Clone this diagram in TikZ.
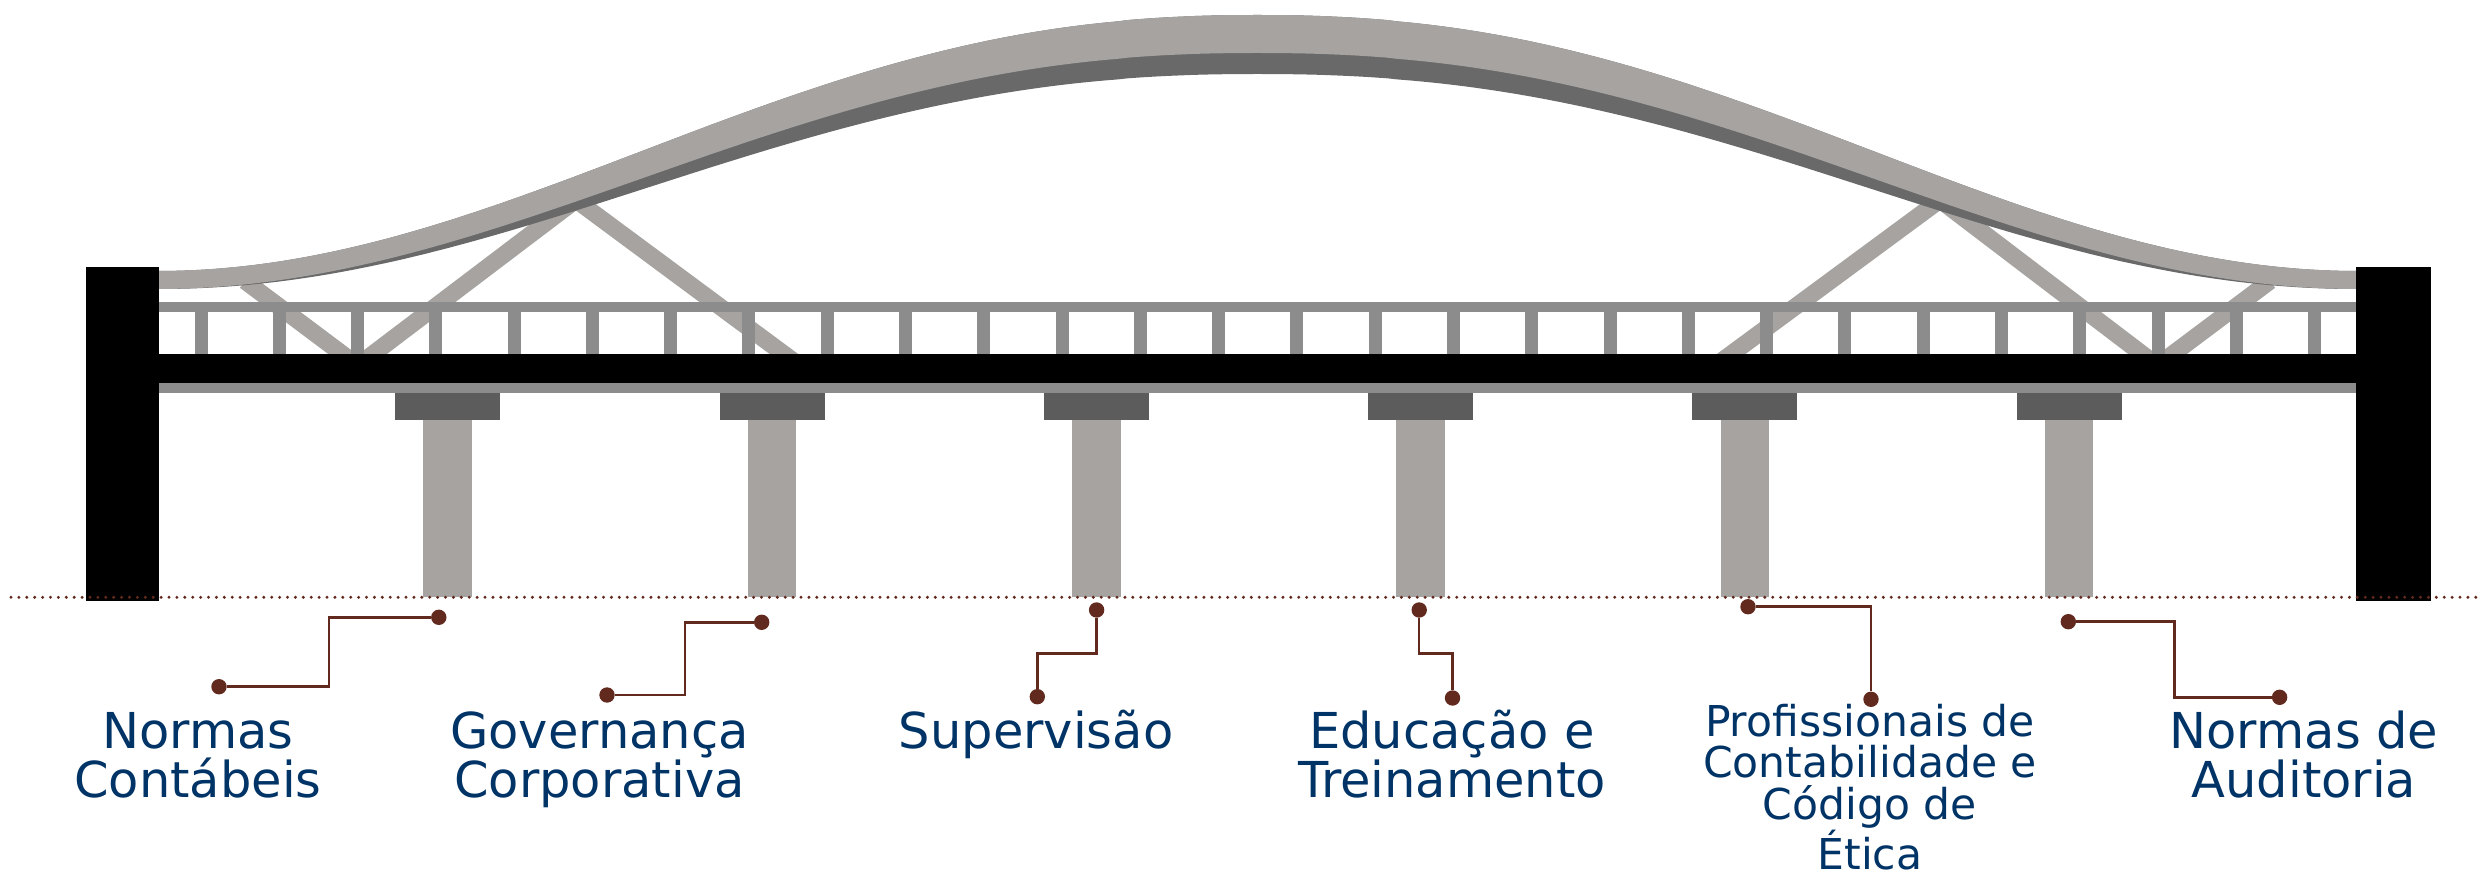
\documentclass[tikz,border=0pt]{standalone}
\usepackage{fontspec}
\setmainfont{DejaVu Sans}
\definecolor{archlight}{RGB}{166,163,161}
\definecolor{archdark}{RGB}{105,105,105}
\definecolor{railgray}{RGB}{140,140,140}
\definecolor{capgray}{RGB}{92,92,92}
\definecolor{brownline}{RGB}{98,42,30}
\definecolor{labelblue}{RGB}{0,51,102}
\begin{document}
\begin{tikzpicture}[x=0.5pt,y=-0.5pt,
  declare function={
    archf(\q)=(1-cos(180*pow(min(abs(\q-1257.5)/1100,1)+0.0001,1.127)))/2;
    archU(\q)=15+256*archf(\q);
    archL(\q)=archU(\q)+38-20*archf(\q);
    archD(\q)=archL(\q)+21*pow(max(1-archf(\q),0.0001),0.85);
  },
  lbl/.style={text=labelblue, align=center, anchor=base, inner sep=0pt, font=\fontsize{24.75pt}{24.4pt}\selectfont},
  lblsmall/.style={lbl, font=\fontsize{21.25pt}{20.75pt}\selectfont},
  pin/.style={circle, fill=brownline, inner sep=0pt, minimum size=7.7pt},
  conn/.style={draw=brownline, line width=1.25pt},
  truss/.style={draw=archlight, line width=8.5pt, line join=miter},
  ground/.style={draw=brownline, line width=1.65pt, line cap=round, dash pattern=on 0pt off 3.95pt},
]
\useasboundingbox (0,0) rectangle (2481,877);
% truss diagonals
\draw[truss] (245,281) -- (353,362);
\draw[truss] (362.3,362) -- (576,200) -- (794.7,362);
\draw[truss] (2270,281) -- (2162,362);
\draw[truss] (2152.7,362) -- (1940,200) -- (1720.3,362);
% arch: dark underside
\fill[archdark] plot[domain=142.5:2372.5, samples=241, smooth] (\x,{archU(\x)})
  -- plot[domain=2372.5:142.5, samples=241, smooth] (\x,{archD(\x)}) -- cycle;
% arch: light band
\fill[archlight] plot[domain=142.5:2372.5, samples=241, smooth] (\x,{archU(\x)})
  -- plot[domain=2372.5:142.5, samples=241, smooth] (\x,{archL(\x)}) -- cycle;
% railing
\fill[railgray] (159,302.3) rectangle (2356,312.3);
\foreach \i in {0,...,27} \fill[railgray] ({201+78.28*\i-6.5},312) rectangle ++(13,42.5);
% deck
\fill[black] (159,354.3) rectangle (2356,382.7);
\fill[railgray] (159,382.7) rectangle (2356,392.7);
% piers
\foreach \i in {0,...,5} {
  \fill[capgray] ({447.7+324.3*\i-52.5},392.7) rectangle ++(105,27.3);
  \fill[archlight] ({447.7+324.3*\i-24.25},420) rectangle ++(48.5,177);
}
% end pillars
\fill[black] (85.7,266.7) rectangle (159,600.7);
\fill[black] (2356,266.7) rectangle (2431,600.7);
% ground line
\coordinate (g0) at (11,597.3);
\coordinate (g1) at (2481,597.3);
\draw[ground] (g0) -- (g1);
% pins
\node[pin] (a1) at (438.8,617.3) {};
\node[pin] (b1) at (219,686.7) {};
\node[pin] (a2) at (761.7,622.3) {};
\node[pin] (b2) at (607,695) {};
\node[pin] (a3) at (1096.6,610) {};
\node[pin] (b3) at (1037.3,696.7) {};
\node[pin] (a4) at (1419.2,610) {};
\node[pin] (b4) at (1452.5,698) {};
\node[pin] (a5) at (1748,606.7) {};
\node[pin] (b5) at (1871,699.3) {};
\node[pin] (a6) at (2068.3,621.7) {};
\node[pin] (b6) at (2279.6,697.3) {};
% connectors
\draw[conn] (b1) -- ++(110,0) |- (a1);
\draw[conn] (b2) -- ++(78,0) |- (a2);
\draw[conn] (a3) -- ++(0,43.3) -| (b3);
\draw[conn] (a4) -- ++(0,43.3) -| (b4);
\draw[conn] (a5) -| (b5);
\draw[conn] (a6) -- ++(106.3,0) |- (b6);
% labels (anchor = baseline of last line)
\node[lbl] (t1) at (198,797) {Normas\\Contábeis};
\node[lbl] (t2) at (599.5,797) {Governança\\Corporativa};
\node[lbl] (t3) at (1036,748) {Supervisão};
\node[lbl] (t4) at (1452,797) {Educação e\\Treinamento};
\node[lblsmall] (t5) at (1870,869.5) {Profissionais de\\Contabilidade e\\Código de\\Ética};
\node[lbl] (t6) at (2304,797) {Normas de\\Auditoria};
\end{tikzpicture}
\end{document}
